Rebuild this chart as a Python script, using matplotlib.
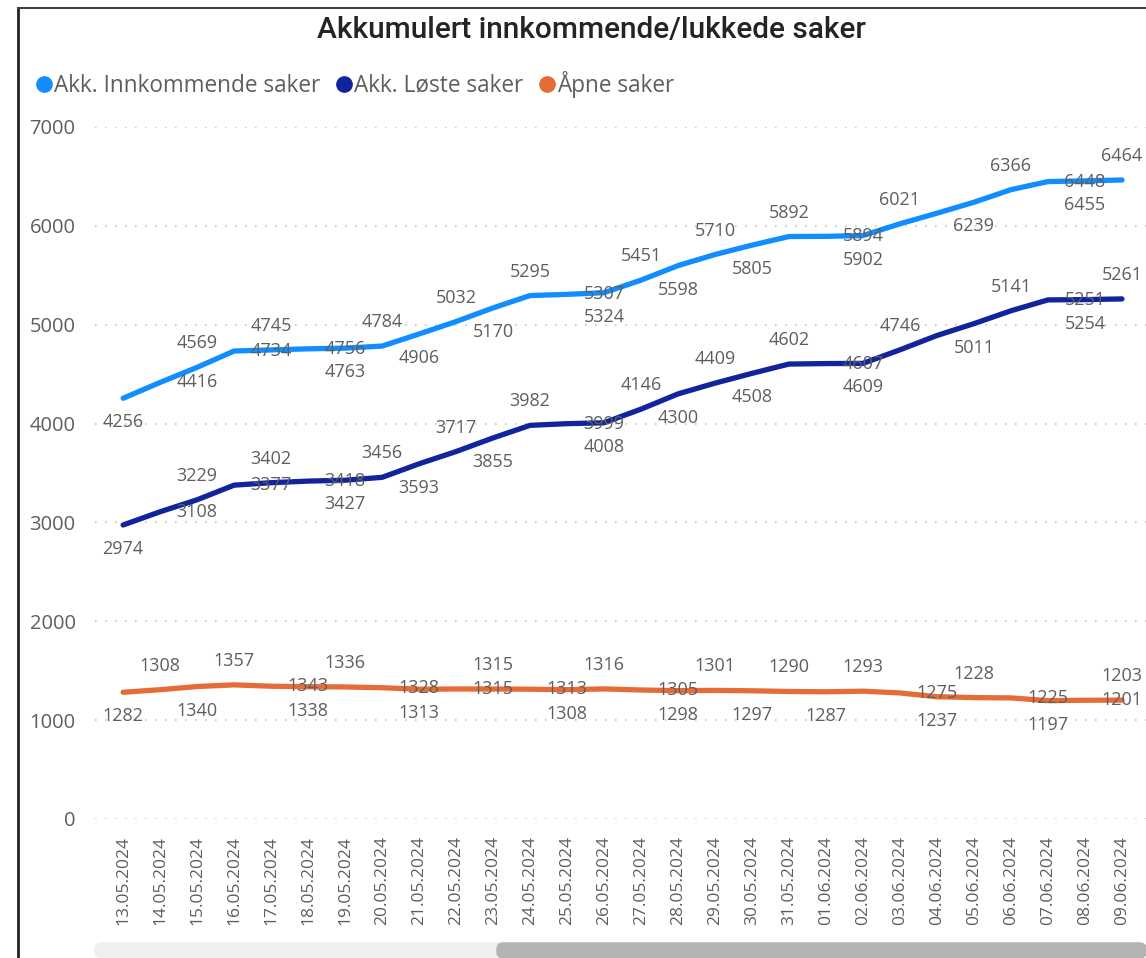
import matplotlib
matplotlib.use("Agg")
import matplotlib.pyplot as plt
from matplotlib.lines import Line2D
from matplotlib.patches import FancyBboxPatch

# dates on the x axis
dates = ['13.05.2024', '14.05.2024', '15.05.2024', '16.05.2024', '17.05.2024', '18.05.2024',
         '19.05.2024', '20.05.2024', '21.05.2024', '22.05.2024', '23.05.2024', '24.05.2024',
         '25.05.2024', '26.05.2024', '27.05.2024', '28.05.2024', '29.05.2024', '30.05.2024',
         '31.05.2024', '01.06.2024', '02.06.2024', '03.06.2024', '04.06.2024', '05.06.2024',
         '06.06.2024', '07.06.2024', '08.06.2024', '09.06.2024']

# accumulated values
innkommende = [4256, 4416, 4569, 4734, 4745, 4756, 4763, 4784, 4906, 5032, 5170, 5295,
               5307, 5324, 5451, 5598, 5710, 5805, 5892, 5894, 5902, 6021, 6128, 6239,
               6366, 6448, 6455, 6464]
loste = [2974, 3108, 3229, 3377, 3402, 3418, 3427, 3456, 3593, 3717, 3855, 3982,
         3999, 4008, 4146, 4300, 4409, 4508, 4602, 4607, 4609, 4746, 4891, 5011,
         5141, 5251, 5254, 5261]
apne = [1282, 1308, 1340, 1357, 1343, 1338, 1336, 1328, 1313, 1315, 1315, 1313,
        1308, 1316, 1305, 1298, 1301, 1297, 1290, 1287, 1293, 1275, 1237, 1228,
        1225, 1197, 1201, 1203]

series_names = ['Akk. Innkommende saker', 'Akk. Løste saker', 'Åpne saker']
colors = ['#118DFF', '#12239E', '#E66C37']

# where power bi put each data label: a=above, b=below, s=shifted right, x=hidden
blue_pos = "bsasas" + "bababa" + "sbabab" + "asbaxb" + "asba"
orange_pos = "babasb" + "asbsas" + "basbab" + "abasba" + "sbsa"

grey = '#605E5C'
plt.rcParams['font.family'] = ['Open Sans', 'DejaVu Sans']

W, H = 1146, 958
fig = plt.figure(figsize=(W / 100, H / 100), dpi=100)
ax = fig.add_axes([95 / W, (H - 819) / H, (1146 - 95) / W, (819 - 127) / H])

x = list(range(len(dates)))


def put_labels(values, pos, color):
    for i, v in enumerate(values):
        p = pos[i]
        if p == 'x':
            continue
        xi, dy = i, 0
        if p == 'a':
            dy = 24
        elif p == 'b':
            dy = -24
        elif p == 's':
            xi = i + 1
        ax.annotate(str(v), (xi, v), xytext=(0, dy), textcoords='offset pixels',
                    ha='center', va='center', fontsize=13, color=color, zorder=5)


for vals, c in zip([innkommende, loste, apne], colors):
    ax.plot(x, vals, color=c, lw=3.8, solid_capstyle='round', solid_joinstyle='round', zorder=3)

put_labels(innkommende, blue_pos, grey)
put_labels(loste, blue_pos, grey)
put_labels(apne, orange_pos, grey)

ax.set_ylim(0, 7000)
ax.set_xlim(-0.76, 27.65)
ax.set_yticks(range(0, 7001, 1000))
ax.set_xticks(x)
ax.set_xticklabels(dates, rotation=90, va='top', ha='center')
ax.tick_params(axis='x', length=0, pad=12, labelsize=12.5, labelcolor=grey)
ax.tick_params(axis='y', length=0, pad=14, labelsize=14.5, labelcolor=grey)
ax.grid(axis='y', color='#C8C6C4', linestyle=(0, (1, 5)), linewidth=1.2)
for s in ax.spines.values():
    s.set_visible(False)

fig.text(591 / W, 1 - 30 / H, 'Akkumulert innkommende/lukkede saker', ha='center', va='center',
         fontsize=21.5, color='#252423', family=['Roboto', 'DejaVu Sans'], fontweight='medium')

handles = [Line2D([], [], marker='o', ls='', color=c, markersize=11) for c in colors]
fig.legend(handles, series_names, loc='center left', bbox_to_anchor=(12 / W, 1 - 84 / H),
           ncol=3, frameon=False, fontsize=16.3, labelcolor=grey, handletextpad=-0.05,
           columnspacing=0.55, handlelength=1.0)

# scrollbar at the bottom
fig.patches.append(FancyBboxPatch((95 / W, 0.0), (1146 - 95) / W, 15 / H,
                                  boxstyle='round,pad=0,rounding_size=0.006',
                                  transform=fig.transFigure, color='#EFEFEF', zorder=1))
fig.patches.append(FancyBboxPatch((497 / W, 0.0), (1146 - 497) / W, 15 / H,
                                  boxstyle='round,pad=0,rounding_size=0.006',
                                  transform=fig.transFigure, color='#B3B3B3', zorder=2))

# visual border
fig.add_artist(Line2D([18 / W, 18 / W], [0, 1 - 8 / H], color='#222222', lw=2))
fig.add_artist(Line2D([18 / W, 1], [1 - 8 / H, 1 - 8 / H], color='#444444', lw=1.5))

fig.savefig('out.png', dpi=100)
